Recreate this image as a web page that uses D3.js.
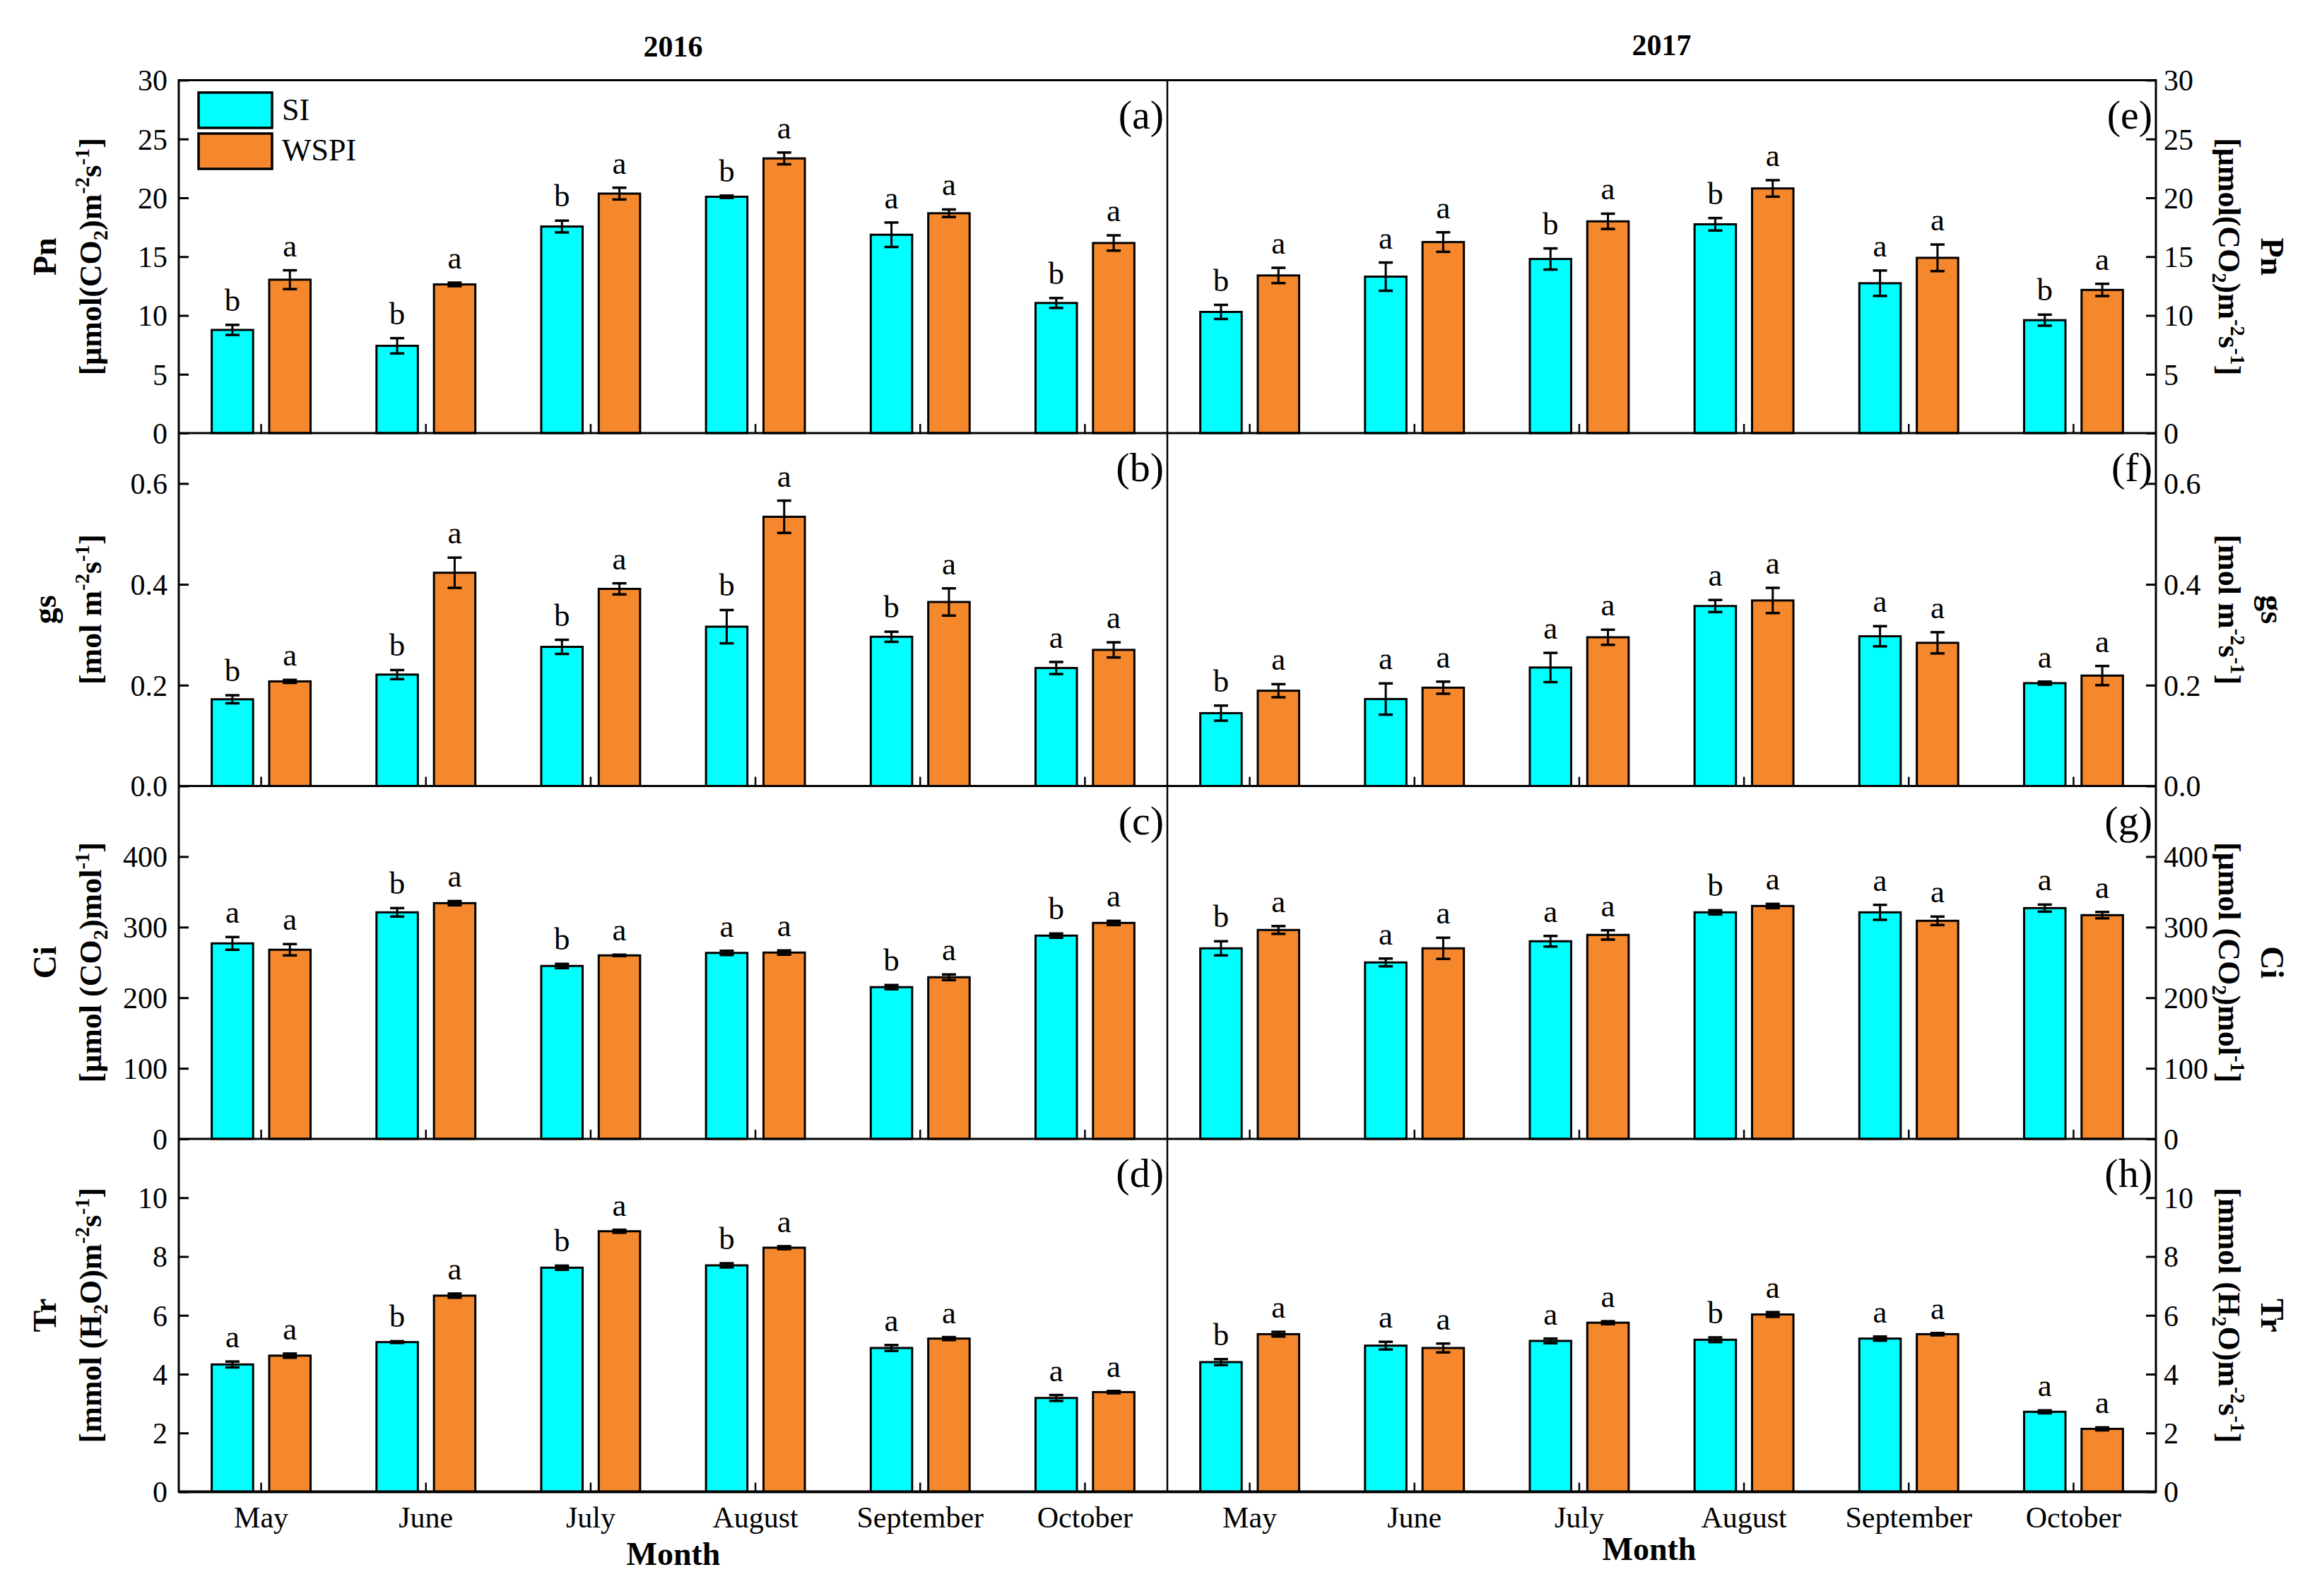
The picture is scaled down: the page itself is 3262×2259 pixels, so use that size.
<!DOCTYPE html>
<html><head><meta charset="utf-8">
<script src="https://cdn.jsdelivr.net/npm/d3@7"></script>
<style>body{margin:0;background:#fff} text{font-family:"Liberation Serif","Times New Roman",serif;fill:#000}</style>
</head><body><svg id="c" width="3262" height="2259"></svg>
<script>
// ---------- DATA ----------
const months = ["May","June","July","August","September","October"];
const series = ["SI","WSPI"];
const years = ["2016","2017"];

// Pn
const pn2016SI = [8.77, 7.42, 17.56, 20.09, 16.86, 11.06];
const pn2016SIerr = [0.43, 0.65, 0.5, 0.1, 1.04, 0.42];
const pn2016WSPI = [13.04, 12.64, 20.36, 23.35, 18.69, 16.16];
const pn2016WSPIerr = [0.8, 0.15, 0.5, 0.5, 0.32, 0.65];
const pn2016SIsig = ["b","b","b","b","a","b"];
const pn2016WSPIsig = ["a","a","a","a","a","a"];
const pn2017SI = [10.3, 13.3, 14.8, 17.75, 12.74, 9.6];
const pn2017SIerr = [0.6, 1.2, 0.9, 0.53, 1.08, 0.47];
const pn2017WSPI = [13.4, 16.24, 18.0, 20.8, 14.9, 12.17];
const pn2017WSPIerr = [0.65, 0.83, 0.65, 0.7, 1.13, 0.52];
const pn2017SIsig = ["b","a","b","b","a","b"];
const pn2017WSPIsig = ["a","a","a","a","a","a"];
// gs
const gs2016SI = [0.172, 0.221, 0.276, 0.316, 0.296, 0.234];
const gs2016SIerr = [0.008, 0.009, 0.014, 0.033, 0.01, 0.012];
const gs2016WSPI = [0.2075, 0.423, 0.391, 0.534, 0.365, 0.270];
const gs2016WSPIerr = [0.003, 0.03, 0.011, 0.032, 0.027, 0.015];
const gs2016SIsig = ["b","b","b","b","b","a"];
const gs2016WSPIsig = ["a","a","a","a","a","a"];
const gs2017SI = [0.1445, 0.1725, 0.235, 0.357, 0.297, 0.204];
const gs2017SIerr = [0.015, 0.031, 0.029, 0.012, 0.02, 0.003];
const gs2017WSPI = [0.189, 0.195, 0.295, 0.368, 0.284, 0.219];
const gs2017WSPIerr = [0.013, 0.012, 0.015, 0.025, 0.021, 0.019];
const gs2017SIsig = ["b","a","a","a","a","a"];
const gs2017WSPIsig = ["a","a","a","a","a","a"];
// Ci
const ci2016SI = [277, 321, 245, 263.5, 215, 288];
const ci2016SIerr = [9, 6, 3, 3, 3, 3];
const ci2016WSPI = [268, 334, 260, 264, 229, 306];
const ci2016WSPIerr = [8, 3, 1, 3, 4, 3];
const ci2016SIsig = ["a","b","b","a","b","b"];
const ci2016WSPIsig = ["a","a","a","a","a","a"];
const ci2017SI = [270, 250, 280, 321, 321, 327];
const ci2017SIerr = [10, 5.5, 7.5, 3, 10.6, 5];
const ci2017WSPI = [296, 270, 289, 330, 309, 317];
const ci2017WSPIerr = [5.5, 15, 6.6, 3, 6, 4.5];
const ci2017SIsig = ["b","a","a","b","a","a"];
const ci2017WSPIsig = ["a","a","a","a","a","a"];
// Tr
const tr2016SI = [4.33, 5.09, 7.62, 7.70, 4.89, 3.19];
const tr2016SIerr = [0.1, 0.03, 0.07, 0.07, 0.1, 0.1];
const tr2016WSPI = [4.63, 6.67, 8.86, 8.30, 5.21, 3.39];
const tr2016WSPIerr = [0.07, 0.07, 0.05, 0.05, 0.05, 0.04];
const tr2016SIsig = ["a","b","b","b","a","a"];
const tr2016WSPIsig = ["a","a","a","a","a","a"];
const tr2017SI = [4.41, 4.97, 5.13, 5.17, 5.21, 2.72];
const tr2017SIerr = [0.1, 0.13, 0.08, 0.08, 0.07, 0.05];
const tr2017WSPI = [5.36, 4.89, 5.75, 6.03, 5.36, 2.14];
const tr2017WSPIerr = [0.08, 0.15, 0.05, 0.08, 0.04, 0.05];
const tr2017SIsig = ["b","a","a","b","a","a"];
const tr2017WSPIsig = ["a","a","a","a","a","a"];

// axis domains and ticks
const pnDomain = [0, 30], pnTicks = [0,5,10,15,20,25,30];
const gsDomain = [0, 0.7], gsTicks = [0,0.2,0.4,0.6];
const ciDomain = [0, 500], ciTicks = [0,100,200,300,400];
const trDomain = [0, 12], trTicks = [0,2,4,6,8,10];

const panelLetters = [["(a)","(e)"],["(b)","(f)"],["(c)","(g)"],["(d)","(h)"]];

// ---------- BUILD ----------
const rows = [
  {name:"Pn", domain:pnDomain, ticks:pnTicks, fmt:d3.format("d"),
   unitL:[["[μmol(CO"],["2","sub"],[")m"],["-2","sup"],["s"],["-1","sup"],["]"]],
   unitR:[["[μmol(CO"],["2","sub"],[")m"],["-2","sup"],["s"],["-1","sup"],["]"]],
   data:[[pn2016SI,pn2016SIerr,pn2016SIsig,pn2016WSPI,pn2016WSPIerr,pn2016WSPIsig],
         [pn2017SI,pn2017SIerr,pn2017SIsig,pn2017WSPI,pn2017WSPIerr,pn2017WSPIsig]]},
  {name:"gs", domain:gsDomain, ticks:gsTicks, fmt:d3.format(".1f"),
   unitL:[["[mol m"],["-2","sup"],["s"],["-1","sup"],["]"]],
   unitR:[["[mol m"],["-2","sup"],["s"],["-1","sup"],["]"]],
   data:[[gs2016SI,gs2016SIerr,gs2016SIsig,gs2016WSPI,gs2016WSPIerr,gs2016WSPIsig],
         [gs2017SI,gs2017SIerr,gs2017SIsig,gs2017WSPI,gs2017WSPIerr,gs2017WSPIsig]]},
  {name:"Ci", domain:ciDomain, ticks:ciTicks, fmt:d3.format("d"),
   unitL:[["[μmol (CO"],["2","sub"],[")mol"],["-1","sup"],["]"]],
   unitR:[["[μmol (CO"],["2","sub"],[")mol"],["-1","sup"],["]"]],
   data:[[ci2016SI,ci2016SIerr,ci2016SIsig,ci2016WSPI,ci2016WSPIerr,ci2016WSPIsig],
         [ci2017SI,ci2017SIerr,ci2017SIsig,ci2017WSPI,ci2017WSPIerr,ci2017WSPIsig]]},
  {name:"Tr", domain:trDomain, ticks:trTicks, fmt:d3.format("d"),
   unitL:[["[mmol (H"],["2","sub"],["O)m"],["-2","sup"],["s"],["-1","sup"],["]"]],
   unitR:[["[mmol (H"],["2","sub"],["O)m"],["-2","sup"],["s"],["-1","sup"],["]"]],
   data:[[tr2016SI,tr2016SIerr,tr2016SIsig,tr2016WSPI,tr2016WSPIerr,tr2016WSPIsig],
         [tr2017SI,tr2017SIerr,tr2017SIsig,tr2017WSPI,tr2017WSPIerr,tr2017WSPIsig]]}
];

const colors = {SI:"#00FFFF", WSPI:"#F5872D"};
const svg = d3.select("#c");
svg.append("rect").attr("width",3262).attr("height",2259).attr("fill","#fff");

const X0 = 253, XM = 1652, X1 = 3051;
const TOP = 113.5, ROWH = 499.5;
const colX = [[X0, XM],[XM, X1]];

function richText(sel, parts, fs){
  parts.forEach(p=>{
    const t = sel.append("tspan").text(p[0]);
    if(p[1]==="sup"){ t.attr("font-size",fs*0.65).attr("dy",-fs*0.38); }
    else if(p[1]==="sub"){ t.attr("font-size",fs*0.65).attr("dy",fs*0.2); }
    else t.attr("font-size",fs);
    p._t = t;
  });
  for(let i=1;i<parts.length;i++){
    const prev = parts[i-1][1];
    if(!parts[i][1] && prev==="sup") parts[i]._t.attr("dy",fs*0.38);
    if(!parts[i][1] && prev==="sub") parts[i]._t.attr("dy",-fs*0.2);
  }
}

rows.forEach((row, r)=>{
  const yTop = TOP + r*ROWH, yBot = TOP + (r+1)*ROWH;
  const y = d3.scaleLinear().domain(row.domain).range([yBot, yTop]);
  [0,1].forEach(c=>{
    const [xa, xb] = colX[c];
    const xM = d3.scaleBand().domain(months).range([xa, xb]).paddingInner(0).paddingOuter(0);
    const bw = xM.bandwidth();
    const xS = d3.scaleBand().domain(series).range([bw*0.2, bw*0.8]).paddingInner(0.28).paddingOuter(0);
    const g = svg.append("g");
    const d = row.data[c];
    series.forEach((s, si)=>{
      const vals = d[si*3], errs = d[si*3+1], sig = d[si*3+2];
      const recs = months.map((m,i)=>({m, v:vals[i], e:errs[i], l:sig[i]}));
      const gg = g.append("g");
      gg.selectAll("rect").data(recs).join("rect")
        .attr("x", q=>xM(q.m)+xS(s)).attr("width", xS.bandwidth())
        .attr("y", q=>y(q.v)).attr("height", q=>y(0)-y(q.v))
        .attr("fill", colors[s]).attr("stroke","#000").attr("stroke-width",3);
      const cx = q=>xM(q.m)+xS(s)+xS.bandwidth()/2;
      gg.selectAll("line.ev").data(recs).join("line").attr("class","ev")
        .attr("x1",cx).attr("x2",cx).attr("y1",q=>y(q.v-q.e)).attr("y2",q=>y(q.v+q.e))
        .attr("stroke","#000").attr("stroke-width",3);
      ["+","-"].forEach(sign=>{
        gg.selectAll("line.cap"+(sign==="+"?"t":"b")).data(recs).join("line").attr("class","cap"+(sign==="+"?"t":"b"))
          .attr("x1",q=>cx(q)-10).attr("x2",q=>cx(q)+10)
          .attr("y1",q=>y(sign==="+"?q.v+q.e:q.v-q.e)).attr("y2",q=>y(sign==="+"?q.v+q.e:q.v-q.e))
          .attr("stroke","#000").attr("stroke-width",3.5);
      });
      gg.selectAll("text").data(recs).join("text")
        .attr("x",cx).attr("y",q=>y(q.v+q.e)-20)
        .attr("text-anchor","middle").attr("font-size",45).text(q=>q.l);
    });
    g.selectAll("line.mt").data(months).join("line").attr("class","mt")
      .attr("x1",m=>xM(m)+bw/2).attr("x2",m=>xM(m)+bw/2)
      .attr("y1",y(0)).attr("y2",y(0)-13).attr("stroke","#000").attr("stroke-width",2.5);
    svg.append("text").attr("x", xb-5).attr("y", yTop+68).attr("text-anchor","end")
      .attr("font-size",58).text(panelLetters[r][c]);
    const ax = (c===0? d3.axisLeft(y).tickPadding(16) : d3.axisRight(y).tickPadding(11))
      .tickValues(row.ticks).tickFormat(row.fmt).tickSize(-14);
    const ag = svg.append("g").attr("transform",`translate(${c===0?xa:xb},0)`).call(ax);
    ag.select(".domain").remove();
    ag.selectAll("line").attr("stroke","#000").attr("stroke-width",3);
    ag.selectAll("text").attr("font-size",42).attr("font-family",'"Liberation Serif",serif').attr("dy","0.34em");
    if(r===rows.length-1){
      svg.append("g").selectAll("text").data(months).join("text")
        .attr("x",m=>xM(m)+bw/2).attr("y",2162).attr("text-anchor","middle")
        .attr("font-size",42).text(m=>m);
    }
  });
  const cy = (yTop+yBot)/2;
  svg.append("text").attr("transform",`translate(79,${cy}) rotate(-90)`).attr("text-anchor","middle")
    .attr("font-weight","bold").attr("font-size",46).text(row.name);
  richText(svg.append("text").attr("transform",`translate(143,${cy}) rotate(-90)`).attr("text-anchor","middle")
    .attr("font-weight","bold"), row.unitL.map(p=>p.slice()), 44);
  svg.append("text").attr("transform",`translate(3200,${cy}) rotate(90)`).attr("text-anchor","middle")
    .attr("font-weight","bold").attr("font-size",46).text(row.name);
  richText(svg.append("text").attr("transform",`translate(3140,${cy}) rotate(90)`).attr("text-anchor","middle")
    .attr("font-weight","bold"), row.unitR.map(p=>p.slice()), 44);
});

const frame = svg.append("g").attr("fill","none").attr("stroke","#000");
frame.append("rect").attr("x",X0).attr("y",TOP).attr("width",X1-X0).attr("height",ROWH*4).attr("stroke-width",3);
for(let r=1;r<4;r++){
  frame.append("line").attr("x1",X0).attr("x2",X1).attr("y1",TOP+r*ROWH).attr("y2",TOP+r*ROWH).attr("stroke-width",3);
}
frame.append("line").attr("x1",X0).attr("x2",X1).attr("y1",TOP+4*ROWH).attr("y2",TOP+4*ROWH).attr("stroke-width",4);
frame.append("line").attr("x1",XM).attr("x2",XM).attr("y1",TOP).attr("y2",TOP+4*ROWH).attr("stroke-width",2.5);

svg.append("text").attr("x",(X0+XM)/2).attr("y",80).attr("text-anchor","middle").attr("font-weight","bold").attr("font-size",42).text(years[0]);
svg.append("text").attr("x",(XM+X1)/2).attr("y",78).attr("text-anchor","middle").attr("font-weight","bold").attr("font-size",42).text(years[1]);
svg.append("text").attr("x",953).attr("y",2215).attr("text-anchor","middle").attr("font-weight","bold").attr("font-size",46).text("Month");
svg.append("text").attr("x",2334).attr("y",2208).attr("text-anchor","middle").attr("font-weight","bold").attr("font-size",46).text("Month");

const lg = svg.append("g");
series.forEach((s,i)=>{
  lg.append("rect").attr("x",281).attr("y",131+i*58).attr("width",104).attr("height",50)
    .attr("fill",colors[s]).attr("stroke","#000").attr("stroke-width",3.5);
  lg.append("text").attr("x",399).attr("y",170+i*57).attr("font-size",44).text(s);
});
</script></body></html>
